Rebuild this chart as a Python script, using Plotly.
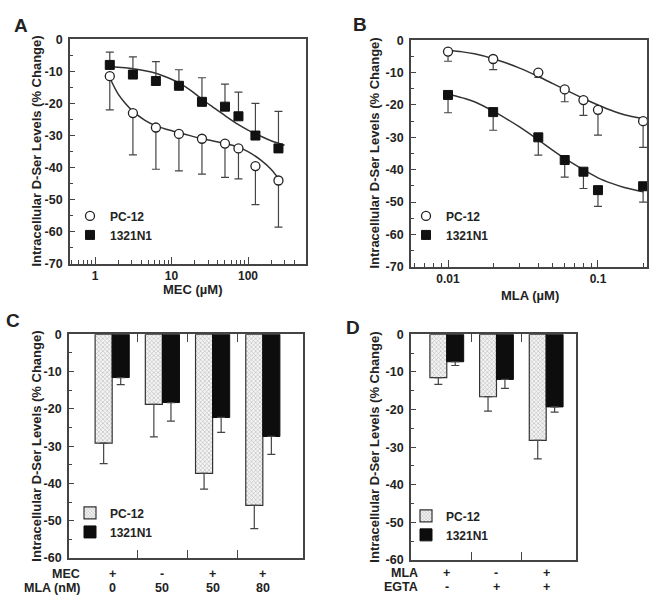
import plotly.graph_objects as go

# ---- panel A: MEC dose response (log x) ----
MEC_X = [1.56, 3.13, 6.25, 12.5, 25, 50, 75, 125, 250]
MEC_PC12 = [-11.5, -23, -27.5, -29.5, -31, -32.5, -34, -39.5, -44]
MEC_PC12_ERR = [10.5, 13, 13, 11.5, 11, 10.5, 9.5, 12, 14.5]
MEC_1321 = [-8, -11, -13, -14.5, -19.5, -21, -24, -30, -34]
MEC_1321_ERR = [4, 5.5, 6, 5, 7.5, 7, 7.5, 10, 11.5]

MEC_FIT_PC12_X = [1.56, 2, 2.5, 3, 4.5, 6.25, 9, 12.5, 18, 25, 35, 50, 75, 100, 150, 200, 270]
MEC_FIT_PC12_Y = [-12, -17, -20, -22, -25.3, -27, -28.2, -29.1, -30.1, -31, -31.7, -32.5, -33.6,
                  -35, -37.8, -40.5, -44.5]
MEC_FIT_1321_X = [1.56, 2, 3, 4.5, 6.25, 9, 12.5, 18, 25, 35, 50, 75, 100, 150, 200, 250, 300]
MEC_FIT_1321_Y = [-8.6, -8.7, -9.1, -9.8, -10.6, -12, -13.6, -16, -18.7, -21.2, -23.8, -26.6,
                  -28.3, -30.3, -31.6, -32.4, -33]

# ---- panel B: MLA dose response (log x) ----
MLA_X = [0.01, 0.02, 0.04, 0.06, 0.08, 0.1, 0.2]
MLA_PC12 = [-3.5, -5.8, -10, -15.2, -18.5, -21.5, -25]
MLA_PC12_ERR = [3, 3.3, 1.5, 3.8, 4.7, 7.8, 8.1]
MLA_1321 = [-16.9, -22.2, -30, -37, -40.6, -46.3, -45.1]
MLA_1321_ERR = [5.5, 5.6, 5.5, 5.3, 5.2, 5, 4.9]

MLA_FIT_X = [0.01, 0.0125, 0.015, 0.02, 0.025, 0.03, 0.04, 0.05, 0.06, 0.08, 0.1, 0.125, 0.15, 0.2]
MLA_FIT_PC12 = [-3.2, -3.6, -4.2, -5.7, -7.2, -8.6, -11.2, -13.4, -15.2, -18, -20, -21.8, -23, -24.2]
MLA_FIT_1321 = [-16.6, -17.8, -19, -21.9, -24.5, -26.8, -30.8, -34, -36.5, -40, -42.5, -44.3,
                -45.5, -46.8]

# ---- panel C: bars ----
C_MEC = ["+", "-", "+", "+"]
C_MLA = ["0", "50", "50", "80"]
C_PC12 = [-29.2, -18.8, -37.3, -45.9]
C_PC12_ERR = [5.5, 8.7, 4.2, 6.2]
C_1321 = [-11.6, -18.3, -22.3, -27.4]
C_1321_ERR = [1.9, 5, 4, 4.8]

# ---- panel D: bars ----
D_MLA = ["+", "-", "+"]
D_EGTA = ["-", "+", "+"]
D_PC12 = [-11.5, -16.6, -28.2]
D_PC12_ERR = [1.8, 3.8, 4.9]
D_1321 = [-7.3, -12, -19.3]
D_1321_ERR = [1, 2.4, 1.4]

Y_TICKS_A = [0, -10, -20, -30, -40, -50, -60, -70]
Y_TICKS_C = [0, -10, -20, -30, -40, -50, -60]

FONT = "Liberation Sans, Arial, sans-serif"
INK = "#222222"
AXIS = "#444444"
W, H = 654, 609


def px(x):
    return x / W


def py(y):
    return 1 - y / H


def y_axis(dom, anchor, ticks):
    return dict(
        domain=[py(dom[1]), py(dom[0])], anchor=anchor, range=[min(ticks), 0],
        tickvals=ticks, ticktext=[str(t) for t in ticks],
        ticks="inside", ticklen=5, tickwidth=1.3, tickcolor=AXIS,
        minor=dict(dtick=5, ticks="inside", ticklen=3, tickwidth=1.3, tickcolor=AXIS),
        showline=True, linewidth=1.8, linecolor=AXIS, mirror=True,
        showgrid=False, zeroline=False, ticklabelstandoff=3,
        tickfont=dict(family=FONT, size=12.5, color=INK, weight="bold"),
    )


fig = go.Figure()

marker_pc12 = dict(symbol="circle", size=9, color="white", line=dict(color=INK, width=1.3))
marker_1321 = dict(symbol="square", size=9, color="#111111", line=dict(color="#111111", width=1))
err_style = dict(type="data", symmetric=False, color="#444444", thickness=1.2, width=4)

# panel A
fig.add_trace(go.Scatter(x=MEC_FIT_PC12_X, y=MEC_FIT_PC12_Y, mode="lines", line_shape="spline",
                         line=dict(color="#333333", width=1.5), showlegend=False,
                         xaxis="x", yaxis="y"))
fig.add_trace(go.Scatter(x=MEC_FIT_1321_X, y=MEC_FIT_1321_Y, mode="lines", line_shape="spline",
                         line=dict(color="#333333", width=1.5), showlegend=False,
                         xaxis="x", yaxis="y"))
fig.add_trace(go.Scatter(x=MEC_X, y=MEC_PC12, mode="markers", name="PC-12", marker=marker_pc12,
                         error_y=dict(err_style, array=[0] * len(MEC_X), arrayminus=MEC_PC12_ERR),
                         xaxis="x", yaxis="y", legend="legend"))
fig.add_trace(go.Scatter(x=MEC_X, y=MEC_1321, mode="markers", name="1321N1", marker=marker_1321,
                         error_y=dict(err_style, array=MEC_1321_ERR, arrayminus=[0] * len(MEC_X)),
                         xaxis="x", yaxis="y", legend="legend"))

# panel B
fig.add_trace(go.Scatter(x=MLA_FIT_X, y=MLA_FIT_PC12, mode="lines", line_shape="spline",
                         line=dict(color="#333333", width=1.5), showlegend=False,
                         xaxis="x2", yaxis="y2"))
fig.add_trace(go.Scatter(x=MLA_FIT_X, y=MLA_FIT_1321, mode="lines", line_shape="spline",
                         line=dict(color="#333333", width=1.5), showlegend=False,
                         xaxis="x2", yaxis="y2"))
fig.add_trace(go.Scatter(x=MLA_X, y=MLA_PC12, mode="markers", name="PC-12", marker=marker_pc12,
                         error_y=dict(err_style, array=[0] * len(MLA_X), arrayminus=MLA_PC12_ERR),
                         xaxis="x2", yaxis="y2", legend="legend2"))
fig.add_trace(go.Scatter(x=MLA_X, y=MLA_1321, mode="markers", name="1321N1", marker=marker_1321,
                         error_y=dict(err_style, array=[0] * len(MLA_X), arrayminus=MLA_1321_ERR),
                         xaxis="x2", yaxis="y2", legend="legend2"))

# panels C and D
hatch = dict(shape="x", fgcolor="#7a7a7a", bgcolor="#f4f4f4", size=3, solidity=0.35)
for xa, ya, lg, pc, pce, nn, nne in [("x3", "y3", "legend3", C_PC12, C_PC12_ERR, C_1321, C_1321_ERR),
                                     ("x4", "y4", "legend4", D_PC12, D_PC12_ERR, D_1321, D_1321_ERR)]:
    pos = list(range(len(pc)))
    fig.add_trace(go.Bar(x=pos, y=pc, name="PC-12", xaxis=xa, yaxis=ya, legend=lg,
                         marker=dict(color="#f4f4f4", pattern=hatch, line=dict(color="#333333", width=1.2)),
                         error_y=dict(err_style, array=[0] * len(pc), arrayminus=pce)))
    fig.add_trace(go.Bar(x=pos, y=nn, name="1321N1", xaxis=xa, yaxis=ya, legend=lg,
                         marker=dict(color="#0d0d0d", line=dict(color="#0d0d0d", width=1)),
                         error_y=dict(err_style, array=[0] * len(nn), arrayminus=nne)))

log_common = dict(type="log", showline=True, linewidth=1.8, linecolor=AXIS, mirror=True,
                  showgrid=False, ticks="inside", ticklen=7, tickwidth=1.3, tickcolor=AXIS,
                  tickfont=dict(family=FONT, size=12, color=INK, weight="bold"))
bar_x = dict(showline=True, linewidth=1.8, linecolor=AXIS, mirror="ticks", showgrid=False,
             zeroline=False, ticks="inside", ticklen=8, tickwidth=1.3, tickcolor=AXIS,
             showticklabels=False)

legend_style = dict(xanchor="left", yanchor="top", bgcolor="rgba(0,0,0,0)", tracegroupgap=0,
                    font=dict(family=FONT, size=12, color=INK, weight="bold"))

fig.update_layout(
    width=W, height=H, margin=dict(l=0, r=0, t=0, b=0),
    paper_bgcolor="white", plot_bgcolor="white",
    barmode="group", bargap=0.32, bargroupgap=0,
    xaxis=dict(log_common, domain=[px(70), px(306)], anchor="y", range=[-0.327, 2.758],
               tickvals=[1, 10, 100], ticktext=["1", "10", "100"],
               minor=dict(tickvals=[0.5, 0.6, 0.7, 0.8, 0.9, 2, 3, 4, 5, 6, 7, 8, 9,
                                    20, 30, 40, 50, 60, 70, 80, 90, 200, 300, 400],
                          ticks="inside", ticklen=4, tickwidth=1.3, tickcolor=AXIS)),
    yaxis=y_axis((33, 263), "x", Y_TICKS_A),
    xaxis2=dict(log_common, domain=[px(411), px(647)], anchor="y2", range=[-2.247, -0.673],
                tickvals=[0.01, 0.1], ticktext=["0.01", "0.1"],
                minor=dict(tickvals=[0.006, 0.007, 0.008, 0.009, 0.02, 0.03, 0.04, 0.05, 0.06,
                                     0.07, 0.08, 0.09, 0.2],
                           ticks="inside", ticklen=4, tickwidth=1.3, tickcolor=AXIS)),
    yaxis2=y_axis((34, 266), "x2", Y_TICKS_A),
    xaxis3=dict(bar_x, domain=[px(69), px(303)], anchor="y3", range=[-0.86, 3.8],
                tickvals=[0.5, 1.5, 2.5]),
    yaxis3=y_axis((335, 564), "x3", Y_TICKS_C),
    xaxis4=dict(bar_x, domain=[px(411), px(576)], anchor="y4", range=[-0.72, 2.6],
                tickvals=[0.5, 1.5]),
    yaxis4=y_axis((335, 566), "x4", Y_TICKS_C),
    legend=dict(legend_style, x=px(70), y=py(199)),
    legend2=dict(legend_style, x=px(406), y=py(199)),
    legend3=dict(legend_style, x=px(70), y=py(503)),
    legend4=dict(legend_style, x=px(406), y=py(506)),
)


def note(text, x, y, size=12.5, xanchor="center", angle=0, xref="paper"):
    fig.add_annotation(text=text, x=x, y=y, xref=xref, yref="paper", showarrow=False,
                       xanchor=xanchor, yanchor="middle", textangle=angle,
                       font=dict(family=FONT, size=size, color=INK, weight="bold"))


# panel letters
for letter, lx, ly in [("A", 21, 19), ("B", 360, 18), ("C", 13, 321), ("D", 353, 328)]:
    note(letter, px(lx), py(ly), size=19)

# axis titles
ytitle = "Intracellular D-Ser Levels (% Change)"
note(ytitle, px(37), py(148), size=13, angle=-90)
note(ytitle, px(375), py(150), size=13, angle=-90)
note(ytitle, px(37), py(450), size=13, angle=-90)
note(ytitle, px(375), py(451), size=13, angle=-90)
note("MEC (µM)", px(192), py(289), size=13)
note("MLA (µM)", px(530), py(295), size=13)

# treatment rows under bar panels
note("MEC", px(82), py(580), xanchor="right")
note("MLA (nM)", px(82), py(595), xanchor="right")
for i, (a, b) in enumerate(zip(C_MEC, C_MLA)):
    note(a, i, py(580), xref="x3")
    note(b, i, py(595), xref="x3")
note("MLA", px(420), py(579), xanchor="right")
note("EGTA", px(420), py(594), xanchor="right")
for i, (a, b) in enumerate(zip(D_MLA, D_EGTA)):
    note(a, i, py(579), xref="x4")
    note(b, i, py(594), xref="x4")

fig.write_html("out.html", config={"displayModeBar": False},
               post_script="document.body.style.margin = '0px';")
